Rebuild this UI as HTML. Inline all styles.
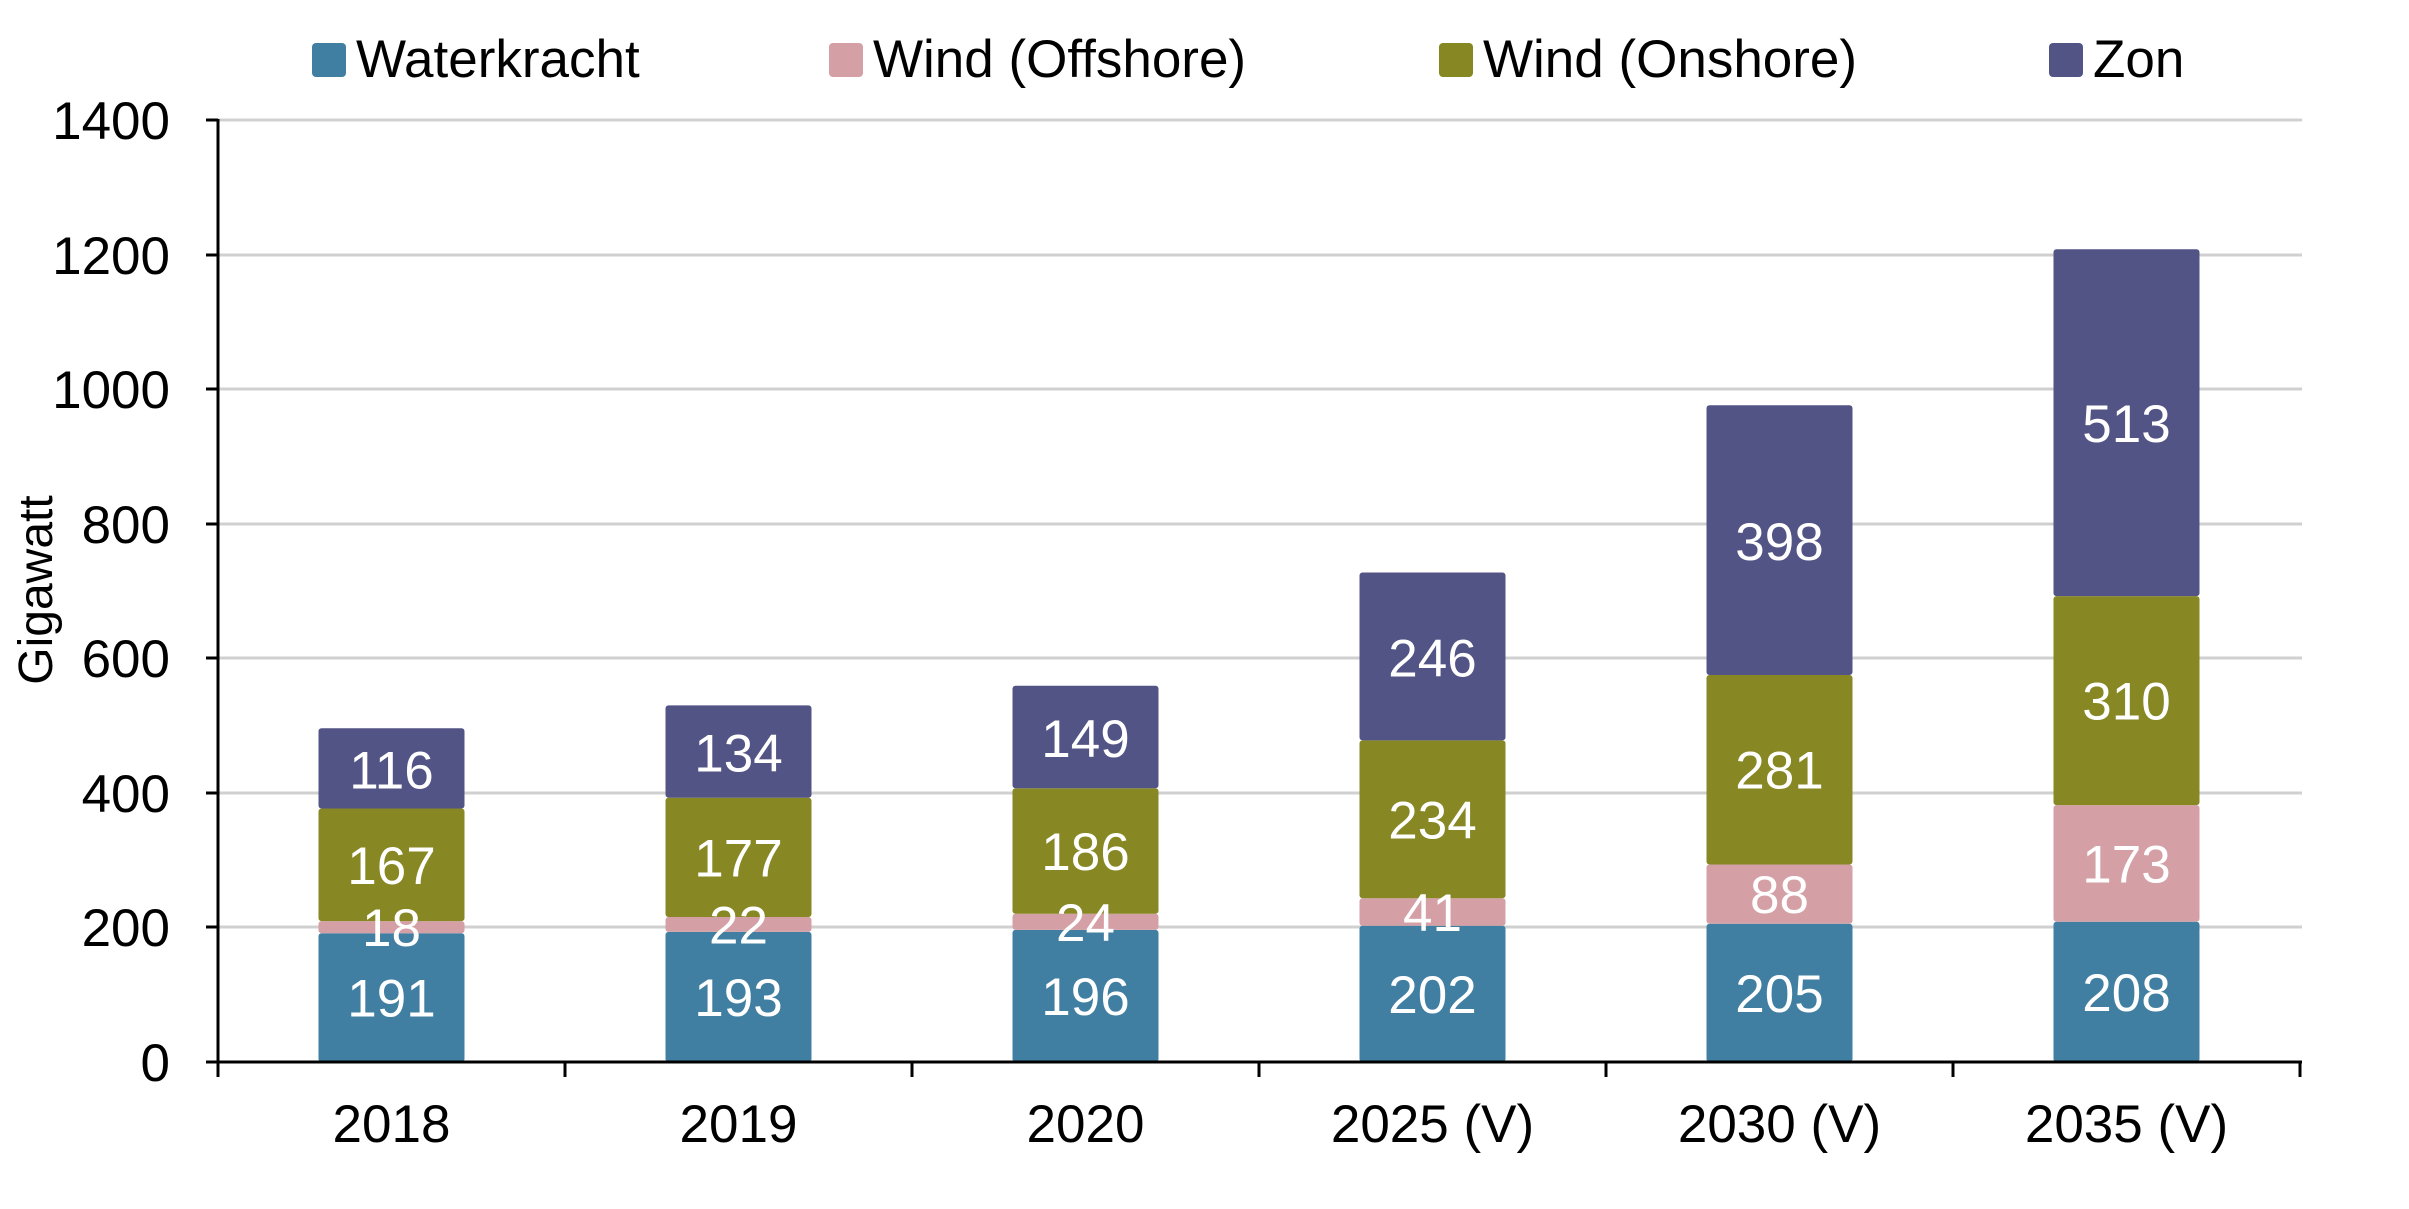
<!DOCTYPE html>
<html><head><meta charset="utf-8"><style>
html,body{margin:0;padding:0;background:#fff;}
svg{display:block;font-family:"Liberation Sans",Arial,sans-serif;}
</style></head><body>
<svg width="2409" height="1209" viewBox="0 0 2409 1209" xmlns="http://www.w3.org/2000/svg">
<g stroke="#d0d0d0" stroke-width="3">
<line x1="218" x2="2302" y1="120" y2="120"/>
<line x1="218" x2="2302" y1="255" y2="255"/>
<line x1="218" x2="2302" y1="389" y2="389"/>
<line x1="218" x2="2302" y1="524" y2="524"/>
<line x1="218" x2="2302" y1="658" y2="658"/>
<line x1="218" x2="2302" y1="793" y2="793"/>
<line x1="218" x2="2302" y1="927" y2="927"/>
</g>
<g>
<rect x="318.5" y="933.2" width="146" height="128.8" rx="3" fill="#417FA2"/>
<rect x="318.5" y="921.1" width="146" height="12.1" rx="3" fill="#D4A0A5"/>
<rect x="318.5" y="808.5" width="146" height="112.6" rx="3" fill="#878724"/>
<rect x="318.5" y="728.3" width="146" height="80.2" rx="3" fill="#535486"/>

<rect x="665.5" y="931.9" width="146" height="130.1" rx="3" fill="#417FA2"/>
<rect x="665.5" y="917.0" width="146" height="14.9" rx="3" fill="#D4A0A5"/>
<rect x="665.5" y="797.7" width="146" height="119.3" rx="3" fill="#878724"/>
<rect x="665.5" y="705.4" width="146" height="92.3" rx="3" fill="#535486"/>

<rect x="1012.5" y="929.9" width="146" height="132.1" rx="3" fill="#417FA2"/>
<rect x="1012.5" y="913.7" width="146" height="16.2" rx="3" fill="#D4A0A5"/>
<rect x="1012.5" y="788.3" width="146" height="125.4" rx="3" fill="#878724"/>
<rect x="1012.5" y="685.8" width="146" height="102.5" rx="3" fill="#535486"/>

<rect x="1359.5" y="925.8" width="146" height="136.2" rx="3" fill="#417FA2"/>
<rect x="1359.5" y="898.2" width="146" height="27.6" rx="3" fill="#D4A0A5"/>
<rect x="1359.5" y="740.4" width="146" height="157.8" rx="3" fill="#878724"/>
<rect x="1359.5" y="572.5" width="146" height="167.9" rx="3" fill="#535486"/>

<rect x="1706.5" y="923.8" width="146" height="138.2" rx="3" fill="#417FA2"/>
<rect x="1706.5" y="864.5" width="146" height="59.3" rx="3" fill="#D4A0A5"/>
<rect x="1706.5" y="675.0" width="146" height="189.5" rx="3" fill="#878724"/>
<rect x="1706.5" y="405.2" width="146" height="269.8" rx="3" fill="#535486"/>

<rect x="2053.5" y="921.8" width="146" height="140.2" rx="3" fill="#417FA2"/>
<rect x="2053.5" y="805.1" width="146" height="116.7" rx="3" fill="#D4A0A5"/>
<rect x="2053.5" y="596.1" width="146" height="209.0" rx="3" fill="#878724"/>
<rect x="2053.5" y="249.3" width="146" height="346.8" rx="3" fill="#535486"/>
</g>
<g fill="#fff" font-size="53" text-anchor="middle">
<text x="391.5" y="1016.6">191</text>
<text x="391.5" y="946.2">18</text>
<text x="391.5" y="883.8">167</text>
<text x="391.5" y="788.4">116</text>

<text x="738.5" y="1015.9">193</text>
<text x="738.5" y="943.5">22</text>
<text x="738.5" y="876.4">177</text>
<text x="738.5" y="771.5">134</text>

<text x="1085.5" y="1014.9">196</text>
<text x="1085.5" y="940.8">24</text>
<text x="1085.5" y="870.0">186</text>
<text x="1085.5" y="757.0">149</text>

<text x="1432.5" y="1012.9">202</text>
<text x="1432.5" y="931.0">41</text>
<text x="1432.5" y="838.3">234</text>
<text x="1432.5" y="676.5">246</text>

<text x="1779.5" y="1011.9">205</text>
<text x="1779.5" y="913.1">88</text>
<text x="1779.5" y="788.7">281</text>
<text x="1779.5" y="559.8">398</text>

<text x="2126.5" y="1010.9">208</text>
<text x="2126.5" y="882.4">173</text>
<text x="2126.5" y="719.6">310</text>
<text x="2126.5" y="442.2">513</text>
</g>
<g stroke="#000" stroke-width="3">
<line x1="218" x2="218" y1="119" y2="1077"/>
<line x1="206" x2="2302" y1="1062" y2="1062"/>
<line x1="206" x2="218" y1="120" y2="120"/>
<line x1="206" x2="218" y1="255" y2="255"/>
<line x1="206" x2="218" y1="389" y2="389"/>
<line x1="206" x2="218" y1="524" y2="524"/>
<line x1="206" x2="218" y1="658" y2="658"/>
<line x1="206" x2="218" y1="793" y2="793"/>
<line x1="206" x2="218" y1="927" y2="927"/>
<line x1="565" x2="565" y1="1062" y2="1077"/>
<line x1="912" x2="912" y1="1062" y2="1077"/>
<line x1="1259" x2="1259" y1="1062" y2="1077"/>
<line x1="1606" x2="1606" y1="1062" y2="1077"/>
<line x1="1953" x2="1953" y1="1062" y2="1077"/>
<line x1="2300" x2="2300" y1="1062" y2="1077"/>
</g>
<g font-size="53" fill="#000" text-anchor="end">
<text x="170" y="139">1400</text>
<text x="170" y="274">1200</text>
<text x="170" y="408">1000</text>
<text x="170" y="543">800</text>
<text x="170" y="677">600</text>
<text x="170" y="812">400</text>
<text x="170" y="946">200</text>
<text x="170" y="1081">0</text>
</g>
<text transform="translate(52,590) rotate(-90)" font-size="48" text-anchor="middle">Gigawatt</text>
<g font-size="53" text-anchor="middle">
<text x="391.5" y="1142">2018</text>
<text x="738.5" y="1142">2019</text>
<text x="1085.5" y="1142">2020</text>
<text x="1432.5" y="1142">2025 (V)</text>
<text x="1779.5" y="1142">2030 (V)</text>
<text x="2126.5" y="1142">2035 (V)</text>
</g>
<g font-size="53">
<rect x="312" y="43" width="34" height="34" rx="4" fill="#417FA2"/><text x="356" y="77">Waterkracht</text>
<rect x="829" y="43" width="34" height="34" rx="4" fill="#D4A0A5"/><text x="873" y="77">Wind (Offshore)</text>
<rect x="1439" y="43" width="34" height="34" rx="4" fill="#878724"/><text x="1483" y="77">Wind (Onshore)</text>
<rect x="2049" y="43" width="34" height="34" rx="4" fill="#535486"/><text x="2093" y="77">Zon</text>
</g>
</svg>
</body></html>
